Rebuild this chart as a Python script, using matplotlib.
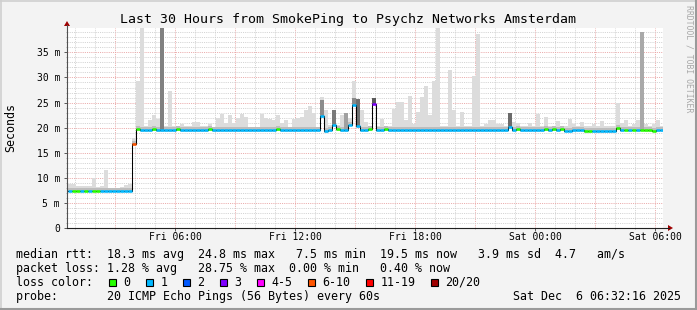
#!/usr/bin/env python3
# -*- coding: utf-8 -*-
"""
Re-draw the SmokePing 30 hour latency graph (Psychz Networks Amsterdam)
"""

import matplotlib
matplotlib.use('Agg')
import matplotlib.pyplot as plt
import numpy as np
from matplotlib.patches import Rectangle, Polygon
from matplotlib.lines import Line2D

W, H = 697, 310
MONO = 'DejaVu Sans Mono'
plt.rcParams['font.family'] = MONO

title = 'Last 30 Hours from SmokePing to Psychz Networks Amsterdam'

# time base: hours after Fri 00:00, one step = 12 minutes
start_hour = 0.65
step_hours = 0.2

# median rtt per step (ms)
median = [
    7.4, 7.4, 7.4, 7.4, 7.4, 7.4, 7.4, 7.4, 7.4, 7.4,
    7.4, 7.4, 7.4, 7.4, 7.4, 7.4, 16.7, 19.7, 19.5, 19.5,
    19.5, 19.7, 19.5, 19.5, 19.5, 19.5, 19.5, 19.7, 19.5, 19.5,
    19.5, 19.5, 19.5, 19.5, 19.5, 19.7, 19.5, 19.5, 19.5, 19.5,
    19.5, 19.5, 19.5, 19.5, 19.5, 19.5, 19.5, 19.5, 19.5, 19.5,
    19.5, 19.5, 19.7, 19.5, 19.5, 19.5, 19.5, 19.5, 19.5, 19.5,
    19.5, 19.5, 19.5, 22.3, 19.3, 19.5, 20.6, 19.7, 19.5, 19.5,
    20.6, 24.6, 20.3, 19.5, 19.5, 19.7, 24.7, 19.5, 19.5, 19.7,
    19.5, 19.5, 19.5, 19.5, 19.5, 19.5, 19.5, 19.5, 19.5, 19.5,
    19.5, 19.5, 19.5, 19.5, 19.5, 19.5, 19.5, 19.5, 19.5, 19.5,
    19.5, 19.5, 19.5, 19.5, 19.5, 19.5, 19.5, 19.5, 19.5, 19.5,
    20.1, 19.5, 19.7, 19.5, 19.5, 19.5, 19.5, 19.5, 19.5, 19.7,
    19.5, 19.7, 19.5, 19.7, 19.4, 19.4, 19.5, 19.5, 19.5, 19.3,
    19.3, 19.3, 19.3, 19.3, 19.3, 19.3, 19.3, 19.9, 19.5, 19.6,
    19.5, 19.6, 19.5, 19.6, 19.5, 19.5, 19.4, 19.5, 19.5,
]

# lost pings per step, as index into loss_labels
loss = [
    1, 0, 0, 1, 0, 1, 0, 0, 1, 1,
    1, 1, 1, 1, 1, 1, 5, 0, 1, 1,
    1, 0, 1, 1, 1, 1, 1, 0, 1, 1,
    1, 1, 1, 1, 1, 0, 1, 1, 1, 1,
    1, 1, 1, 1, 1, 1, 1, 1, 1, 1,
    1, 1, 0, 1, 1, 1, 1, 1, 1, 1,
    1, 1, 1, 1, 1, 1, 1, 0, 1, 1,
    1, 1, 1, 1, 1, 0, 3, 1, 1, 0,
    1, 1, 1, 1, 1, 1, 1, 1, 1, 1,
    1, 1, 1, 1, 1, 1, 1, 1, 1, 1,
    1, 1, 1, 1, 1, 1, 1, 1, 1, 1,
    1, 1, 0, 1, 1, 1, 1, 1, 1, 0,
    1, 0, 1, 0, 1, 1, 1, 1, 1, 0,
    0, 1, 1, 1, 1, 1, 1, 0, 1, 0,
    1, 0, 1, 0, 0, 0, 0, 1, 1,
]

# highest ping per step (ms), the light smoke
smoke_hi = [
    8.7, 8.8, 8.4, 8.3, 8.3, 8.3, 9.9, 8.2, 8.3, 11.6,
    8.0, 8.0, 8.0, 8.1, 8.6, 8.7, 17.9, 29.3, 42.0, 20.3,
    21.5, 22.5, 21.7, 20.4, 20.3, 27.3, 20.4, 20.3, 20.8, 20.3,
    20.3, 21.2, 21.2, 20.3, 20.3, 20.7, 20.2, 21.9, 22.7, 21.0,
    22.6, 21.0, 21.9, 22.7, 22.2, 20.2, 20.0, 20.0, 22.7, 21.9,
    21.7, 21.5, 22.5, 21.0, 21.5, 20.0, 21.7, 21.9, 22.2, 23.6,
    24.3, 23.0, 20.2, 26.2, 23.5, 20.5, 23.5, 20.5, 22.5, 23.0,
    22.0, 29.3, 25.7, 23.5, 21.2, 20.3, 26.0, 20.3, 21.7, 20.3,
    20.3, 23.7, 25.2, 25.2, 21.5, 26.3, 20.8, 23.2, 26.2, 28.3,
    22.6, 29.2, 42.0, 20.3, 20.3, 31.5, 23.5, 20.3, 23.2, 20.3,
    20.3, 30.3, 38.7, 20.3, 20.8, 21.5, 21.5, 20.8, 20.8, 20.3,
    23.0, 21.2, 21.0, 20.3, 20.3, 21.0, 20.3, 22.7, 20.3, 22.1,
    20.3, 20.3, 21.3, 20.3, 20.3, 21.7, 20.7, 20.3, 21.1, 20.3,
    20.3, 20.7, 20.3, 21.3, 20.3, 20.3, 20.3, 25.0, 21.0, 21.5,
    20.3, 20.7, 21.5, 39.0, 20.7, 20.3, 20.7, 21.5, 20.3,
]

# steps where most pings were high (dense, darker smoke)
dark_steps = [16, 23, 63, 66, 69, 71, 72, 76, 110, 143]
dark_tops = [17.0, 42.0, 25.5, 23.5, 22.9, 26.0, 25.7, 26.0, 23.0, 39.0]
dark_shades = ['#909090', '#808080', '#8c8c8c', '#7a7a7a', '#a0a0a0',
               '#8a8a8a', '#707070', '#5a5a5a', '#6a6a6a', '#a9a9a9']

loss_labels = ['0', '1', '2', '3', '4-5', '6-10', '11-19', '20/20']
loss_colors = ['#26ff00', '#00b8ff', '#0059ff', '#7e00ff',
               '#ff00ff', '#ff5500', '#ff0000', '#a00000']

x_ticks = [6, 12, 18, 24, 30]
x_tick_labels = ['Fri 06:00', 'Fri 12:00', 'Fri 18:00', 'Sat 00:00', 'Sat 06:00']
y_ticks = [0, 5, 10, 15, 20, 25, 30, 35]
y_tick_labels = ['0', '5 m', '10 m', '15 m', '20 m', '25 m', '30 m', '35 m']

row_rtt = 'median rtt:  18.3 ms avg  24.8 ms max   7.5 ms min  19.5 ms now   3.9 ms sd  4.7   am/s'
row_loss = 'packet loss: 1.28 % avg   28.75 % max  0.00 % min   0.40 % now'
row_colors = 'loss color:'
row_probe = 'probe:       20 ICMP Echo Pings (56 Bytes) every 60s'
stamp = 'Sat Dec  6 06:32:16 2025'


def fx(px):
    return px / W


def fy(py):
    return 1 - py / H


fig = plt.figure(figsize=(W / 100, H / 100), dpi=100, facecolor='#f3f3f3')
ax = fig.add_axes([fx(67), fy(228), 596 / W, 200 / H])
ax.set_facecolor('white')
ax.set_xlim(0.6, 30.4)
ax.set_ylim(0, 39.86)

t = start_hour + step_hours * np.arange(len(median))
med = np.array(median)
hi = np.array(smoke_hi)

# grid (drawn under the smoke)
for h in range(1, 31):
    major = h % 3 == 0
    ax.axvline(h, color='#e8a0a0' if major else '#cdcdcd', lw=0.6,
               ls=(0, (1.3, 1.3)), zorder=1)
for v in range(1, 40):
    major = v % 5 == 0
    ax.axhline(v, color='#e8a0a0' if major else '#cdcdcd', lw=0.6,
               ls=(0, (1.3, 1.3)), zorder=1)

# smoke
ax.bar(t, hi - (med - 0.3), bottom=med - 0.3, width=step_hours, align='edge',
       color='#dcdcdc', linewidth=0, zorder=2)
ax.bar(t, 0.8, bottom=med - 0.2, width=step_hours, align='edge',
       color='#bdbdbd', linewidth=0, zorder=2)
for s, top, shade in zip(dark_steps, dark_tops, dark_shades):
    ax.bar(t[s], top - med[s], bottom=med[s], width=step_hours, align='edge',
           color=shade, linewidth=0, zorder=2.5)

# median line coloured by loss
ax.step(np.append(t, t[-1] + step_hours), np.append(med, med[-1]), where='post',
        color='black', lw=0.75, zorder=4)
ax.hlines(med, t, t + step_hours, colors=[loss_colors[k] for k in loss],
          lw=1.85, zorder=5, capstyle='butt')

# axes and ticks
for side in ['top', 'right', 'left', 'bottom']:
    ax.spines[side].set_visible(False)
ax.set_xticks(x_ticks, x_tick_labels)
ax.set_xticks(range(1, 31), minor=True)
ax.set_yticks(y_ticks, y_tick_labels)
ax.set_yticks(range(1, 40), minor=True)
ax.tick_params(axis='x', which='major', length=2, width=0.6, color='#404040',
               pad=1.2, labelsize=7.05)
ax.tick_params(axis='y', which='major', length=2, width=0.6, color='#404040',
               pad=3.0, labelsize=7.05)
ax.tick_params(which='minor', length=1, width=0.5, color='#909090')

# axis lines with red arrow heads
fig.add_artist(Line2D([fx(67), fx(67)], [fy(228), fy(25)], transform=fig.transFigure,
                      color='#505050', lw=0.8))
fig.add_artist(Line2D([fx(67), fx(669)], [fy(228), fy(228)], transform=fig.transFigure,
                      color='#202020', lw=0.8))
fig.add_artist(Polygon([(fx(67), fy(21)), (fx(64), fy(26)), (fx(70), fy(26))],
                       closed=True, transform=fig.transFigure, color='#a00000', lw=0))
fig.add_artist(Polygon([(fx(673), fy(228)), (fx(668), fy(225)), (fx(668), fy(231))],
                       closed=True, transform=fig.transFigure, color='#a00000', lw=0))

# texts
fig.text(fx(348), fy(19.3), title, ha='center', va='center', size=9.55)
fig.text(fx(11), fy(128), 'Seconds', rotation=90, ha='center', va='center', size=8.4)
fig.text(fx(688.5), fy(59), 'RRDTOOL / TOBI OETIKER', rotation=270, ha='center',
         va='center', size=5.9, color='#a8a8a8')

fig.text(fx(16), fy(254.3), row_rtt, ha='left', va='center', size=8.4)
fig.text(fx(16), fy(268.3), row_loss, ha='left', va='center', size=8.4)
fig.text(fx(16), fy(282.3), row_colors, ha='left', va='center', size=8.4)
fig.text(fx(16), fy(296.2), row_probe, ha='left', va='center', size=8.4)
fig.text(fx(681), fy(296.2), stamp, ha='right', va='center', size=8.4)

bx = 108.7
for lab, col in zip(loss_labels, loss_colors):
    fig.add_artist(Rectangle((fx(bx), fy(286.2)), 7.5 / W, 7.5 / H, transform=fig.transFigure,
                             facecolor=col, edgecolor='black', lw=0.8))
    fig.text(fx(bx + 14.7), fy(282.3), lab, ha='left', va='center', size=8.4)
    bx += 30 + 7 * len(lab)

# frame
fig.add_artist(Line2D([0, 1], [fy(0.7), fy(0.7)], transform=fig.transFigure, color='#d0d0d0', lw=1.2))
fig.add_artist(Line2D([fx(0.7), fx(0.7)], [0, 1], transform=fig.transFigure, color='#d0d0d0', lw=1.2))
fig.add_artist(Line2D([0, 1], [fy(309), fy(309)], transform=fig.transFigure, color='#9a9a9a', lw=1.5))
fig.add_artist(Line2D([fx(696), fx(696)], [0, 1], transform=fig.transFigure, color='#9a9a9a', lw=1.5))

fig.savefig('out.png', dpi=100, facecolor=fig.get_facecolor())
